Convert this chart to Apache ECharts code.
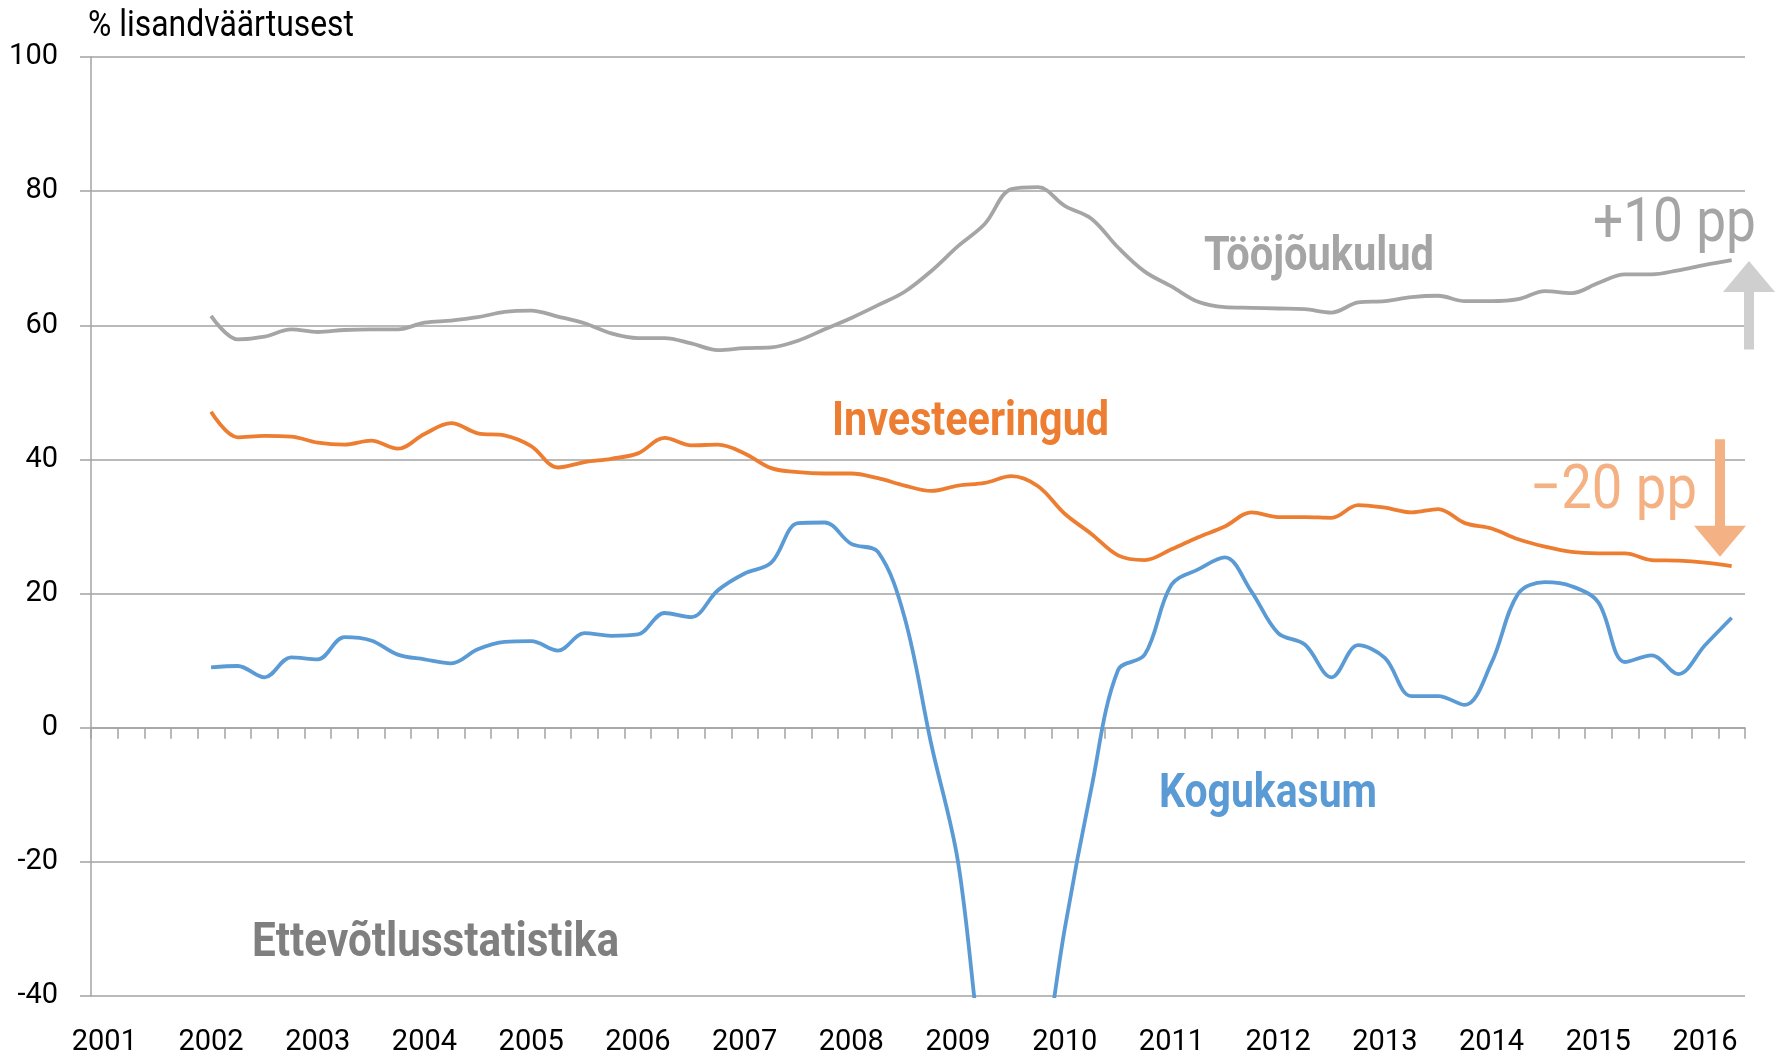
<!DOCTYPE html>
<html>
<head>
<meta charset="utf-8">
<title>Ettevõtlusstatistika</title>
<script src="https://cdn.jsdelivr.net/npm/echarts@6/dist/echarts.min.js"></script>
<style>
	html, body { margin: 0; padding: 0; background: #fff; }
	#chart { width: 1784px; height: 1058px; }
</style>
</head>
<body>
<div id="chart"></div>
<script type="text/javascript">
	// aastad teljel, andmed kvartalite kaupa 2002 Q1 ... 2016 Q2
	var years = ['2001', '2002', '2003', '2004', '2005', '2006', '2007', '2008',
		'2009', '2010', '2011', '2012', '2013', '2014', '2015', '2016'];
	var yTicks = { min: -40, max: 100, step: 20 };

	var toojoukulud = [61.4, 57.9, 58.3, 59.4, 59.0, 59.3, 59.4, 59.4,
		60.4, 60.7, 61.2, 62.0, 62.2, 61.3, 60.3, 58.8,
		58.1, 58.1, 57.3, 56.3, 56.6, 56.7, 57.7, 59.4,
		61.1, 63.0, 65.0, 68.1, 71.8, 75.1, 80.3, 80.6,
		77.8, 75.9, 71.6, 68.0, 65.8, 63.5, 62.7, 62.6,
		62.5, 62.4, 61.9, 63.4, 63.6, 64.2, 64.4, 63.6,
		63.6, 63.9, 65.1, 64.8, 66.3, 67.6, 67.6, 68.2,
		69.0, 69.7];
	var investeeringud = [47.1, 43.3, 43.5, 43.4, 42.5, 42.2, 42.8, 41.6,
		43.8, 45.4, 43.9, 43.6, 42.0, 38.8, 39.6, 40.1,
		40.9, 43.2, 42.1, 42.2, 40.9, 38.7, 38.1, 37.9,
		37.9, 37.2, 36.1, 35.3, 36.1, 36.5, 37.5, 36.0,
		31.9, 28.9, 25.7, 25.0, 26.6, 28.4, 30.0, 32.1,
		31.4, 31.4, 31.3, 33.2, 32.8, 32.1, 32.6, 30.5,
		29.7, 28.1, 27.0, 26.2, 26.0, 26.0, 25.0, 24.9,
		24.6, 24.1];
	var kogukasum = [9.0, 9.2, 7.5, 10.5, 10.2, 13.5, 13.0, 10.9,
		10.2, 9.6, 11.7, 12.8, 12.9, 11.5, 14.1, 13.7,
		13.9, 17.1, 16.5, 20.5, 23.0, 24.6, 30.5, 30.6,
		27.4, 26.2, 16.4, -2.5, -20.0, -52.0, -68.0, -55.0,
		-30.0, -9.0, 8.6, 10.9, 21.3, 23.6, 25.4, 20.3,
		14.1, 12.4, 7.5, 12.3, 10.4, 4.7, 4.7, 3.4,
		9.7, 20.0, 21.7, 21.1, 18.7, 9.8, 10.8, 8.0,
		12.3, 16.4];

	var quarters = [];
	years.forEach(function(y) {
		for (var q = 1; q <= 4; q++) quarters.push(y + ' Q' + q);
	});
	quarters = quarters.slice(0, 62);
	var pad = [null, null, null, null]; // 2001 andmed puuduvad

	var gridColor = '#a3a3a3';
	var axisFont = 'Roboto';

	var chart = echarts.init(document.getElementById('chart'), null, { renderer: 'canvas' });

	function line(name, data, color) {
		return {
			name: name,
			type: 'line',
			data: pad.concat(data),
			smooth: 0.35,
			showSymbol: false,
			clip: true,
			lineStyle: { color: color, width: 3.8 },
			itemStyle: { color: color }
		};
	}

	var option = {
		animation: false,
		backgroundColor: '#fff',
		grid: { left: 91, right: 39, top: 57, bottom: 62 },
		xAxis: [{
			type: 'category',
			data: quarters,
			boundaryGap: true,
			position: 'bottom',
			axisLine: { show: false, onZero: false },
			axisTick: { show: false },
			axisLabel: {
				interval: 3,
				margin: 32,
				fontFamily: axisFont,
				fontSize: 29,
				color: '#000',
				formatter: function(v) { return v.slice(0, 4); }
			},
			splitLine: { show: false }
		}, {
			type: 'category',
			data: quarters,
			boundaryGap: true,
			position: 'bottom',
			axisLine: { show: true, onZero: true, lineStyle: { color: gridColor, width: 1.5 } },
			axisTick: { show: true, interval: 0, length: 11, lineStyle: { color: gridColor, width: 1.5 } },
			axisLabel: { show: false },
			splitLine: { show: false }
		}],
		yAxis: {
			type: 'value',
			min: yTicks.min,
			max: yTicks.max,
			interval: yTicks.step,
			axisLine: { show: true, lineStyle: { color: gridColor, width: 1.5 } },
			axisTick: { show: true, length: 11, lineStyle: { color: gridColor, width: 1.5 } },
			axisLabel: { margin: 33, fontFamily: axisFont, fontSize: 29, color: '#000' },
			splitLine: { show: true, lineStyle: { color: gridColor, width: 1.5 } }
		},
		series: [
			line('Kogukasum', kogukasum, '#5b9bd5'),
			line('Investeeringud', investeeringud, '#ed7d31'),
			line('Tööjõukulud', toojoukulud, '#a5a5a5')
		]
	};
	chart.setOption(option);

	// tekstid: kitsendatud Roboto, laius mõõdetakse canvas'ega
	var ctx = document.createElement('canvas').getContext('2d');
	function text(str, x0, x1, baseline, size, weight, color) {
		ctx.font = weight + ' ' + size + 'px Roboto';
		var w = ctx.measureText(str).width;
		return {
			type: 'text',
			x: x0,
			y: baseline - size * 0.29,
			scaleX: (x1 - x0) / w,
			z: 10,
			style: {
				text: str,
				fontFamily: 'Roboto',
				fontSize: size,
				fontWeight: weight,
				fill: color,
				align: 'left',
				verticalAlign: 'middle'
			}
		};
	}

	// nooled: x piksel, algus- ja lõppväärtus y-teljel
	function arrow(x, from, to, color) {
		var yA = chart.convertToPixel({ yAxisIndex: 0 }, from);
		var yB = chart.convertToPixel({ yAxisIndex: 0 }, to);
		var dir = yB < yA ? 1 : -1;
		var head = 31, half = 26, shaft = 5;
		var yBase = yB + dir * head;
		return {
			type: 'polygon',
			z: 10,
			shape: {
				points: [
					[x - shaft, yA], [x - shaft, yBase], [x - half, yBase],
					[x, yB], [x + half, yBase], [x + shaft, yBase], [x + shaft, yA]
				]
			},
			style: { fill: color }
		};
	}

	chart.setOption({
		graphic: [
			text('% lisandväärtusest', 88, 354, 37, 36, 'normal', '#000'),
			text('Tööjõukulud', 1204, 1434, 272, 48, 'bold', '#a5a5a5'),
			text('Investeeringud', 832, 1109, 437, 48, 'bold', '#ed7d31'),
			text('Kogukasum', 1159, 1377, 809, 48, 'bold', '#5b9bd5'),
			text('Ettevõtlusstatistika', 252, 619, 958, 48, 'bold', '#7f7f7f'),
			text('+10 pp', 1593, 1756, 243, 62, 'normal', '#a5a5a5'),
			text('\u221220 pp', 1530, 1697, 510, 62, 'normal', '#f4b183'),
			arrow(1749, 56.4, 69.6, '#cfcfcf'),
			arrow(1720, 43.0, 25.5, '#f4b183')
		]
	});
</script>
</body>
</html>
